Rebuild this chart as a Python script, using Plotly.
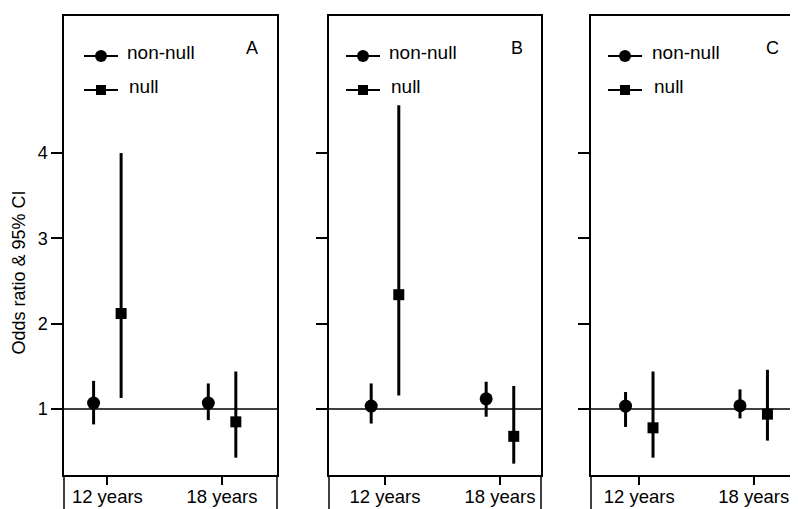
import plotly.graph_objects as go

# ---------------- data ----------------
categories = ["12 years", "18 years"]
panel_labels = ["A", "B", "C"]
series_names = ["non-null", "null"]
y_ticks = [1, 2, 3, 4]

a_nonnull_or = [1.07, 1.07]
a_nonnull_lo = [0.82, 0.87]
a_nonnull_hi = [1.33, 1.30]
a_null_or = [2.12, 0.85]
a_null_lo = [1.13, 0.43]
a_null_hi = [4.00, 1.44]

b_nonnull_or = [1.035, 1.12]
b_nonnull_lo = [0.83, 0.91]
b_nonnull_hi = [1.30, 1.32]
b_null_or = [2.34, 0.68]
b_null_lo = [1.16, 0.36]
b_null_hi = [4.56, 1.27]

c_nonnull_or = [1.035, 1.04]
c_nonnull_lo = [0.79, 0.89]
c_nonnull_hi = [1.20, 1.23]
c_null_or = [0.78, 0.94]
c_null_lo = [0.43, 0.63]
c_null_hi = [1.44, 1.46]

# ---------------- layout constants ----------------
# the page body has an 8px margin, so the figure is 8px smaller and
# every pixel position below is relative to the figure's own corner
OFF = 8
W, H = 798 - OFF, 509 - OFF
FONT = "Liberation Sans, Arial, sans-serif"
FS = 18
LW = 1.5
DODGE = 0.12

panel_data = [
    (a_nonnull_or, a_nonnull_lo, a_nonnull_hi, a_null_or, a_null_lo, a_null_hi),
    (b_nonnull_or, b_nonnull_lo, b_nonnull_hi, b_null_or, b_null_lo, b_null_hi),
    (c_nonnull_or, c_nonnull_lo, c_nonnull_hi, c_null_or, c_null_lo, c_null_hi),
]
# pixel geometry of each panel (left, right) in page pixels
panel_px = [(64, 277), (329, 541), (591, 798)]
x_ranges = [[0.622, 2.479], [0.513, 2.357], [0.578, 2.387]]
legend_cx = [37, 34, 34]       # legend marker centre, px from panel left
legend_tx = [61, 58, 59]       # legend text start, px from panel left
letter_cx = [188, 188, 181]    # panel letter centre, px from panel left
right_border = [True, True, False]
y_range = [0.227, 5.606]
PLOT_TOP, PLOT_BOTTOM = 16, 475

cat_pos = [i + 1 for i in range(len(categories))]

fig = go.Figure()
shapes = []
annotations = []

for p, (nn_or, nn_lo, nn_hi, nl_or, nl_lo, nl_hi) in enumerate(panel_data):
    sfx = "" if p == 0 else str(p + 1)
    xa, ya = "x" + sfx, "y" + sfx
    xr, yr = "x" + sfx + " domain", "y" + sfx + " domain"

    for vals, lo, hi, sym, size, off in [
        (nn_or, nn_lo, nn_hi, "circle", 13, -DODGE),
        (nl_or, nl_lo, nl_hi, "square", 11, DODGE),
    ]:
        fig.add_trace(go.Scatter(
            x=[c + off for c in cat_pos], y=vals, xaxis=xa, yaxis=ya,
            mode="markers",
            marker=dict(symbol=sym, size=size, color="black"),
            error_y=dict(type="data", symmetric=False,
                         array=[h - v for h, v in zip(hi, vals)],
                         arrayminus=[v - l for v, l in zip(vals, lo)],
                         color="black", thickness=3, width=0),
            showlegend=False, hoverinfo="skip",
        ))

    # reference line at OR = 1
    shapes.append(dict(type="line", xref=xr, yref=ya, x0=0, x1=1, y0=1, y1=1,
                       line=dict(color="black", width=LW), layer="below"))
    # vertical borders continuing below the x axis
    edges = [0, 1] if right_border[p] else [0]
    for e in edges:
        shapes.append(dict(type="line", xref=xr, yref="paper",
                           ysizemode="pixel", yanchor=0,
                           x0=e, x1=e, y0=0, y1=-40,
                           line=dict(color="black", width=LW)))

    # legend drawn inside each panel
    for k, (name, sym) in enumerate(zip(series_names, ["circle", "square"])):
        cy = -40 - 34 * k
        shapes.append(dict(type="line", xref=xr, yref=yr,
                           xsizemode="pixel", ysizemode="pixel",
                           xanchor=0, yanchor=1,
                           x0=legend_cx[p] - 17, x1=legend_cx[p] + 17,
                           y0=cy, y1=cy, line=dict(color="black", width=2)))
        r = 6 if sym == "circle" else 5
        shapes.append(dict(type="circle" if sym == "circle" else "rect",
                           xref=xr, yref=yr,
                           xsizemode="pixel", ysizemode="pixel",
                           xanchor=0, yanchor=1,
                           x0=legend_cx[p] - r, x1=legend_cx[p] + r,
                           y0=cy - r, y1=cy + r,
                           fillcolor="black", line=dict(color="black", width=0)))
        annotations.append(dict(text=name, xref=xr, yref=yr, x=0, y=1,
                                xanchor="left", yanchor="middle",
                                xshift=legend_tx[p] + (2 if k else 0),
                                yshift=-36 - 34 * k,
                                showarrow=False,
                                font=dict(family=FONT, size=19, color="black")))
    # panel letter
    annotations.append(dict(text=panel_labels[p], xref=xr, yref=yr, x=0, y=1,
                            xanchor="center", yanchor="middle",
                            xshift=letter_cx[p], yshift=-32, showarrow=False,
                            font=dict(family=FONT, size=FS, color="black")))

    l, r_ = panel_px[p]
    fig.layout["xaxis" + sfx] = dict(
        domain=[(l - OFF) / W, min(1.0, (r_ - OFF) / W)], range=x_ranges[p],
        anchor=ya,
        tickvals=cat_pos, ticktext=categories, ticks="outside", ticklen=8,
        tickwidth=LW, tickcolor="black", ticklabelstandoff=-4,
        showline=True, linecolor="black", linewidth=LW, mirror=True,
        showgrid=False, zeroline=False, fixedrange=True,
        tickfont=dict(family=FONT, size=18.5, color="black"),
    )
    fig.layout["yaxis" + sfx] = dict(
        domain=[0, 1], range=y_range, anchor=xa,
        tickvals=y_ticks, ticks="outside", ticklen=11, tickwidth=LW,
        tickcolor="black", showticklabels=(p == 0),
        showline=True, linecolor="black", linewidth=LW,
        mirror=right_border[p],
        showgrid=False, zeroline=False, fixedrange=True,
        tickfont=dict(family=FONT, size=FS, color="black"),
    )

annotations.append(dict(text="Odds ratio &amp; 95% CI", xref="paper", yref="paper",
                        x=0, y=0.5, xanchor="center", yanchor="middle",
                        xshift=18 - OFF, yshift=-27, textangle=-90,
                        showarrow=False,
                        font=dict(family=FONT, size=FS, color="black")))

fig.update_layout(
    width=W, height=H,
    margin=dict(l=0, r=0, t=PLOT_TOP - OFF, b=509 - PLOT_BOTTOM),
    paper_bgcolor="white", plot_bgcolor="white",
    shapes=shapes, annotations=annotations,
    showlegend=False,
)

fig.write_html("out.html")
